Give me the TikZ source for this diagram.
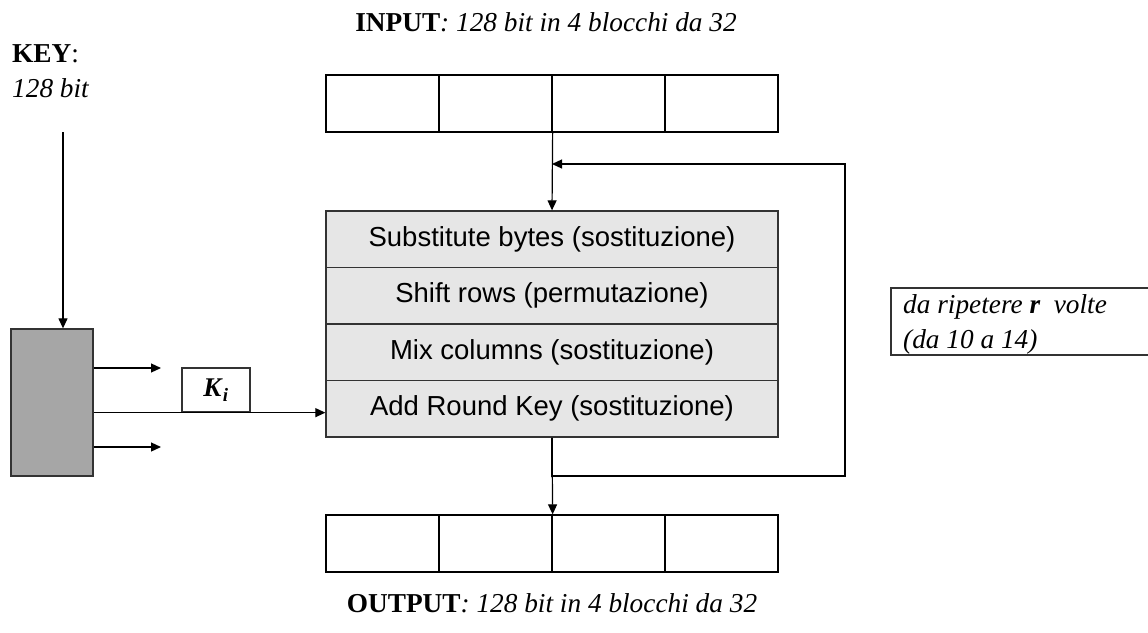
\documentclass[tikz,border=0pt]{standalone}
\usepackage{fontspec}
\setmainfont{Liberation Serif}
\setsansfont{Liberation Sans}
\usetikzlibrary{arrows.meta,positioning}
\definecolor{rowfill}{HTML}{E6E6E6}
\definecolor{keyfill}{HTML}{A6A6A6}
\definecolor{edge}{HTML}{333333}
\tikzset{
  cell/.style={draw=black, line width=1.3pt, minimum width=113pt, minimum height=57pt, inner sep=0pt, fill=white},
  rowbox/.style={draw=edge, line width=1.3pt, fill=rowfill, minimum width=452pt, minimum height=56.5pt, inner sep=0pt, font=\sffamily\fontsize{27.5}{30}\selectfont},
  lbl/.style={font=\fontsize{27.3}{32}\selectfont, inner sep=0pt},
  arr/.style={line width=1.2pt, draw=black, -{Triangle[length=10pt,width=9pt]}},
  conn/.style={line width=1.2pt, draw=black}
}
\begin{document}
\begin{tikzpicture}[x=1pt,y=-1pt]
\useasboundingbox (0,0) rectangle (1148,632);
\clip (0,0) rectangle (1148,632);
% labels
\node[lbl, anchor=base] (inlbl) at (546,31) {\textbf{INPUT}\textit{: 128 bit in 4 blocchi da 32}};
\node[lbl, anchor=base] (outlbl) at (552,612) {\textbf{OUTPUT}\textit{: 128 bit in 4 blocchi da 32}};
\node[lbl, anchor=base west] (keylbl) at (12,62) {\textbf{KEY}:};
\node[lbl, anchor=base west] (keybits) at (12,97) {\textit{128 bit}};
% input cells
\node[cell] (i1) at (382.5,103.5) {};
\node[cell] (i2) at (495.5,103.5) {};
\node[cell] (i3) at (608.5,103.5) {};
\node[cell] (i4) at (721.5,103.5) {};
% output cells
\node[cell] (o1) at (382.5,543.5) {};
\node[cell] (o2) at (495.5,543.5) {};
\node[cell] (o3) at (608.5,543.5) {};
\node[cell] (o4) at (721.5,543.5) {};
% round rows
\node[rowbox] (r1) at (552,239.25) {Substitute bytes (sostituzione)};
\node[rowbox] (r2) at (552,295.75) {Shift rows (permutazione)};
\node[rowbox] (r3) at (552,352.25) {Mix columns (sostituzione)};
\node[rowbox] (r4) at (552,408.75) {Add Round Key (sostituzione)};
% key schedule box
\node[draw=edge, line width=1.3pt, fill=keyfill, minimum width=82pt, minimum height=147pt, inner sep=0pt] (gbox) at (52,402.5) {};
\node[draw=edge, line width=1.3pt, fill=white, minimum width=68pt, minimum height=44pt, inner sep=0pt, font=\fontsize{27}{30}\selectfont] (ki) at (216,390) {\textbf{\textit{K}}\textsubscript{\textbf{\textit{i}}}};
% right note
\node[font=\fontsize{27.3}{35}\selectfont, anchor=base west, align=left, inner sep=0pt] (note) at (903,348) {\textit{da ripetere \textbf{r}\ \ volte}\\\textit{(da 10 a 14)}};
\draw[draw=edge, line width=1.2pt] (1160,288) -- (891,288) -- (891,355) -- (1160,355);
% connectors
\coordinate (keytop) at (63,132);
\draw[arr] (keytop) -- (gbox.north -| keytop);
\coordinate (s1) at (161,368);
\coordinate (s3) at (161,447);
\draw[arr] (gbox.east |- s1) -- (s1);
\draw[arr] (gbox.east |- s3) -- (s3);
\draw[arr] (gbox.east |- ki.south) -- (ki.south -| r4.west);
\draw[arr] (i2.south east) -- (r1.north);
\draw[arr] (r4.south) -- (o2.north east);
\coordinate (fbr) at (845,476);
\coordinate (fbt) at (845,164);
\draw[arr] (r4.south) -- (r4.south |- fbr) -- (fbr) -- (fbt) -- (fbt -| r1.north);
\end{tikzpicture}
\end{document}
